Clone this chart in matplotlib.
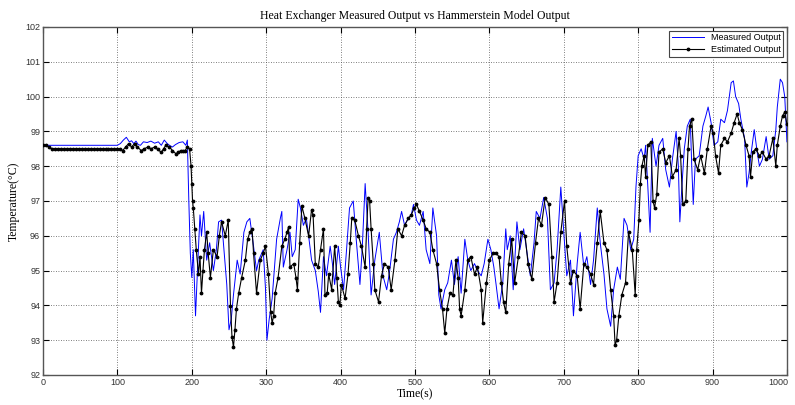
import numpy as np
import matplotlib
matplotlib.use("Agg")
import matplotlib.pyplot as plt
from matplotlib.transforms import ScaledTranslation

# measured output (blue)
t_meas = [0, 20, 40, 60, 80, 100, 104, 108, 112, 116, 119, 122, 125, 128, 131, 135, 140, 145, 150, 155,
          159, 163, 167, 170, 174, 178, 183, 188, 192, 194, 196, 198, 200, 202, 205, 208, 211, 213, 216, 220,
          224, 229, 233, 236, 240, 244, 247, 250, 253, 256, 261, 265, 270, 274, 278, 283, 287, 290, 296, 299,
          301, 304, 308, 314, 319, 321, 323, 328, 332, 335, 339, 343, 346, 350, 354, 357, 361, 366, 370, 373,
          377, 381, 386, 389, 392, 397, 400, 404, 408, 412, 417, 421, 426, 429, 433, 437, 441, 446, 452, 457,
          462, 466, 471, 475, 479, 482, 486, 491, 495, 498, 502, 506, 511, 515, 520, 524, 529, 532, 535, 540,
          544, 549, 553, 558, 562, 567, 571, 575, 580, 584, 589, 593, 598, 602, 606, 609, 613, 618, 622, 624,
          628, 632, 637, 641, 646, 650, 655, 660, 663, 668, 673, 678, 682, 687, 691, 696, 700, 704, 709, 713,
          718, 722, 727, 731, 736, 740, 745, 749, 754, 758, 763, 767, 772, 776, 781, 785, 790, 794, 797, 800,
          804, 808, 810, 813, 816, 819, 824, 828, 833, 837, 842, 846, 851, 854, 856, 859, 862, 866, 870, 872,
          874, 877, 882, 887, 891, 894, 898, 902, 907, 911, 916, 920, 925, 928, 931, 935, 938, 943, 946, 949,
          952, 956, 960, 963, 967, 972, 976, 981, 985, 987, 991, 994, 997, 1000]
y_meas = [98.6, 98.6, 98.6, 98.6, 98.6, 98.6, 98.65, 98.75, 98.83, 98.7, 98.73, 98.65, 98.72, 98.62, 98.6, 98.7, 98.68, 98.72, 98.66, 98.7,
          98.6, 98.75, 98.65, 98.6, 98.55, 98.62, 98.68, 98.7, 98.6, 98.75, 97.0, 95.5, 94.8, 95.6, 93.7, 95.2, 96.6, 96.0, 96.7, 95.3,
          95.8, 95.0, 95.6, 96.4, 96.45, 95.4, 94.6, 93.3, 93.6, 94.3, 95.3, 94.9, 96.1, 96.4, 96.5, 95.7, 95.0, 95.3, 95.6, 94.5,
          93.0, 93.6, 94.2, 95.9, 96.5, 96.7, 95.1, 95.6, 96.1, 95.4, 95.6, 97.05, 96.8, 96.3, 96.5, 96.0, 95.3, 95.0, 94.4, 93.8,
          95.4, 94.85, 95.7, 95.2, 94.6, 95.7, 95.1, 94.45, 95.6, 96.8, 97.0, 95.9, 94.6, 95.6, 97.5, 96.1, 94.3, 95.3, 96.1, 94.85,
          94.45, 95.0, 95.9, 96.1, 96.4, 96.7, 96.3, 96.5, 96.6, 96.9, 96.45, 96.3, 96.7, 95.6, 95.2, 96.8, 96.0, 94.3, 93.9, 94.45,
          94.65, 95.3, 94.6, 95.4, 94.35, 95.9, 95.3, 95.0, 95.2, 95.0, 94.85, 95.2, 95.9, 95.6, 95.1, 94.6, 93.9, 94.65, 96.2, 95.6,
          96.0, 94.45, 96.4, 95.6, 96.2, 95.6, 94.85, 95.8, 96.7, 96.5, 97.1, 96.5, 94.45, 94.65, 95.6, 97.4, 96.1, 94.85, 95.3, 93.7,
          95.2, 96.1, 95.1, 95.4, 94.6, 95.3, 96.8, 95.8, 94.9, 93.9, 93.4, 94.45, 95.1, 94.75, 96.5, 96.3, 95.6, 95.9, 97.4, 98.3,
          98.5, 98.2, 98.6, 97.4, 96.1, 98.8, 98.0, 98.6, 98.8, 97.9, 97.4, 98.2, 99.0, 98.0, 96.4, 97.5, 98.5, 99.15, 99.35, 98.0,
          96.9, 98.2, 98.3, 99.15, 99.45, 99.7, 99.25, 98.6, 98.7, 99.35, 99.25, 99.6, 100.4, 100.45, 100.0, 99.8, 99.35, 98.8, 97.4, 97.8,
          98.4, 99.05, 98.4, 98.0, 98.2, 98.85, 98.2, 98.3, 99.05, 99.7, 100.5, 100.4, 100.0, 98.7]

# estimated output (black, with markers)
t_est = [0, 4, 8, 12, 16, 20, 24, 28, 32, 36, 40, 44, 48, 52, 56, 60, 64, 68, 72, 76,
         80, 84, 88, 92, 96, 100, 104, 107, 111, 115, 119, 123, 127, 132, 136, 141, 145, 150, 154, 159,
         162, 165, 170, 174, 179, 182, 185, 188, 191, 194, 197, 199, 200, 201, 202, 204, 206, 209, 211, 213,
         215, 217, 220, 222, 225, 229, 234, 237, 240, 245, 249, 252, 254, 256, 258, 260, 263, 267, 272, 275,
         278, 281, 283, 287, 292, 296, 299, 303, 306, 308, 310, 312, 316, 321, 325, 328, 330, 332, 337, 340,
         342, 345, 348, 352, 357, 361, 363, 366, 370, 373, 377, 379, 382, 384, 388, 392, 395, 397, 399, 401,
         406, 410, 413, 415, 419, 424, 428, 433, 435, 437, 439, 441, 444, 446, 451, 455, 459, 464, 468, 473,
         477, 482, 486, 491, 495, 499, 502, 506, 511, 515, 520, 524, 529, 533, 537, 540, 543, 547, 551, 555,
         558, 560, 562, 567, 571, 575, 580, 584, 589, 591, 596, 600, 605, 609, 613, 616, 619, 622, 626, 630,
         634, 639, 643, 648, 652, 657, 662, 666, 670, 675, 680, 684, 687, 691, 696, 701, 704, 709, 713, 718,
         722, 727, 731, 736, 740, 745, 749, 754, 758, 763, 767, 769, 771, 774, 778, 783, 787, 792, 796, 798,
         801, 803, 805, 808, 810, 813, 817, 820, 822, 825, 828, 833, 837, 842, 846, 851, 855, 857, 860, 864,
         867, 869, 872, 875, 880, 884, 889, 893, 898, 901, 904, 908, 911, 916, 920, 925, 929, 933, 936, 940,
         945, 949, 951, 954, 958, 963, 967, 972, 976, 981, 985, 987, 991, 994, 997, 1000]
y_est = [98.6, 98.6, 98.55, 98.5, 98.5, 98.5, 98.5, 98.5, 98.5, 98.5, 98.5, 98.5, 98.5, 98.5, 98.5, 98.5, 98.5, 98.5, 98.5, 98.5,
         98.5, 98.5, 98.5, 98.5, 98.5, 98.5, 98.5, 98.45, 98.55, 98.65, 98.55, 98.65, 98.55, 98.45, 98.5, 98.55, 98.5, 98.55, 98.48, 98.4,
         98.5, 98.6, 98.55, 98.45, 98.35, 98.4, 98.45, 98.45, 98.45, 98.55, 98.5, 98.0, 97.5, 97.0, 96.8, 96.2, 95.6, 94.9, 95.4, 94.35,
         95.0, 95.6, 96.1, 95.5, 94.8, 95.6, 95.4, 96.0, 96.4, 96.0, 96.45, 93.97, 93.1, 92.8, 93.3, 93.9, 94.35, 94.8, 95.3, 95.9,
         96.1, 96.2, 95.5, 94.35, 95.3, 95.5, 95.7, 94.9, 93.8, 93.5, 93.7, 94.35, 94.8, 95.7, 95.9, 96.1, 96.25, 95.1, 95.2, 94.8,
         94.45, 95.8, 96.85, 96.5, 96.0, 96.75, 96.6, 95.2, 95.1, 95.6, 96.2, 94.3, 94.35, 94.9, 94.45, 95.7, 94.8, 94.1, 94.0, 94.6,
         94.2, 94.9, 95.8, 96.5, 96.45, 96.0, 95.7, 95.1, 96.2, 97.1, 97.0, 96.2, 95.2, 94.45, 94.1, 94.85, 95.2, 95.1, 94.45, 95.3,
         96.2, 96.0, 96.3, 96.5, 96.6, 96.8, 96.9, 96.7, 96.45, 96.2, 96.1, 95.6, 95.2, 94.45, 93.9, 93.2, 93.9, 94.35, 94.3, 95.3,
         94.8, 93.9, 93.7, 94.45, 95.3, 95.4, 94.9, 95.1, 94.45, 93.5, 94.65, 95.3, 95.5, 95.5, 95.4, 94.65, 94.1, 93.8, 95.2, 95.9,
         94.65, 95.4, 96.1, 96.0, 95.2, 94.75, 95.8, 96.5, 96.3, 97.1, 96.9, 95.4, 94.1, 94.65, 96.1, 97.0, 95.7, 94.65, 95.0, 94.85,
         93.9, 95.2, 95.1, 94.9, 94.6, 95.8, 96.7, 95.8, 95.6, 94.45, 93.7, 92.85, 93.0, 93.7, 94.3, 94.65, 96.1, 95.6, 94.3, 95.6,
         96.45, 97.5, 98.0, 98.3, 97.7, 98.6, 98.7, 97.0, 96.8, 97.2, 98.4, 98.5, 98.1, 98.3, 97.7, 97.9, 98.8, 98.3, 96.9, 97.0,
         98.5, 99.15, 99.35, 98.2, 97.9, 98.3, 97.8, 98.5, 99.15, 98.95, 98.3, 97.8, 98.6, 98.8, 98.7, 98.95, 99.25, 99.5, 99.25, 99.05,
         98.6, 98.3, 97.7, 98.4, 98.5, 98.3, 98.4, 98.2, 98.3, 98.8, 98.0, 98.6, 99.15, 99.45, 99.55, 99.2]

x_ticks = np.arange(0, 1001, 100)
y_ticks = np.arange(92, 103, 1)

fig = plt.figure(figsize=(7.95, 4.05), dpi=100)
ax = fig.add_axes([0.0541, 0.0741, 0.9358, 0.8593])

ax.plot(t_meas, y_meas, color='#0000ff', lw=0.7, label='Measured Output', zorder=3)
ax.plot(t_est, y_est, color='black', lw=0.8, marker='.', markersize=3.5,
        label='Estimated Output', zorder=4)

ax.set_xlim(0, 1000)
ax.set_ylim(92, 102)
ax.set_xticks(x_ticks)
ax.set_yticks(y_ticks)
ax.grid(True, linestyle=(0, (1, 2)), color='#555555', lw=0.6)
ax.tick_params(direction='in', top=True, right=True, length=4, labelsize=6.5, pad=2,
               labelcolor='#333333')
for lab in ax.get_xticklabels() + ax.get_yticklabels():
    lab.set_family('Liberation Sans')
# keep the last x label inside the figure
last = ax.get_xticklabels()[-1]
last.set_transform(last.get_transform() + ScaledTranslation(-6 / 72, 0, fig.dpi_scale_trans))

for sp in ax.spines.values():
    sp.set_color('#555555')
    sp.set_linewidth(1.0)

ax.set_title('Heat Exchanger Measured Output vs Hammerstein Model Output',
             family='Liberation Serif', fontsize=8.5, pad=6)
ax.set_xlabel('Time(s)', family='Liberation Serif', fontsize=8.5, labelpad=1)
ax.set_ylabel('Temperature(\u00b0C)', family='Liberation Serif', fontsize=8.5, labelpad=4)

leg = ax.legend(loc='upper right', prop={'family': 'Liberation Sans', 'size': 6.5},
                fancybox=False, framealpha=1, edgecolor='#444444', handlelength=3.5,
                borderaxespad=0.4, borderpad=0.3, labelspacing=0.3)
leg.get_frame().set_linewidth(0.8)

fig.savefig('out.png', dpi=100)
